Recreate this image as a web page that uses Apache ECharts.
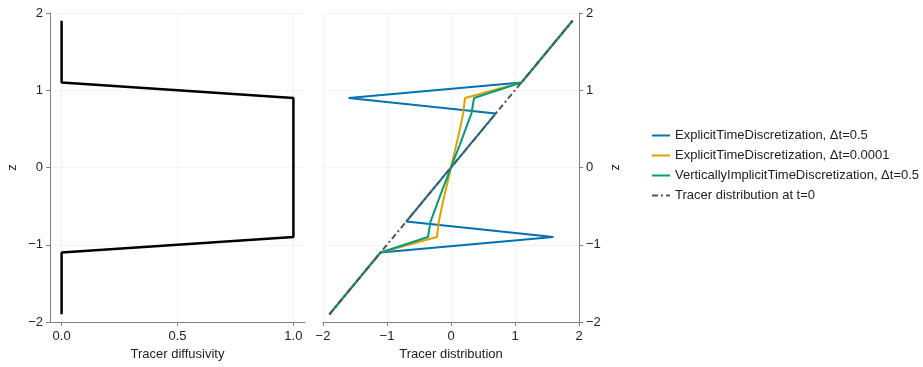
<!DOCTYPE html>
<html>
<head>
<meta charset="utf-8">
<script src="https://cdn.jsdelivr.net/npm/echarts@6/dist/echarts.min.js"></script>
<style>
html,body{margin:0;padding:0;background:#fff;}
#chart{width:923px;height:367px;}
</style>
</head>
<body>
<div id="chart"></div>
<script>
// ---- data ----
var zCenters = [-1.9,-1.7,-1.5,-1.3,-1.1,-0.9,-0.7,-0.5,-0.3,-0.1,0.1,0.3,0.5,0.7,0.9,1.1,1.3,1.5,1.7,1.9];
var diffusivity = [0,0,0,0,0,1,1,1,1,1,1,1,1,1,1,0,0,0,0,0];
var explicitDt05 = [-1.9,-1.7,-1.5,-1.3,-1.1,1.6,-0.7,-0.5,-0.3,-0.1,0.1,0.3,0.5,0.7,-1.6,1.1,1.3,1.5,1.7,1.9];
var explicitDt00001 = [-1.9,-1.7,-1.5,-1.3,-1.1,-0.22,-0.19,-0.14,-0.085,-0.028,0.028,0.085,0.14,0.19,0.22,1.1,1.3,1.5,1.7,1.9];
var implicitDt05 = [-1.9,-1.7,-1.5,-1.3,-1.1,-0.36,-0.32,-0.23,-0.14,-0.045,0.045,0.14,0.23,0.32,0.36,1.1,1.3,1.5,1.7,1.9];
var initialTracer = [-1.9,-1.7,-1.5,-1.3,-1.1,-0.9,-0.7,-0.5,-0.3,-0.1,0.1,0.3,0.5,0.7,0.9,1.1,1.3,1.5,1.7,1.9];
var diffTicks = [0, 0.5, 1.0];
var seriesNames = ['ExplicitTimeDiscretization, \u0394t=0.5','ExplicitTimeDiscretization, \u0394t=0.0001','VerticallyImplicitTimeDiscretization, \u0394t=0.5','Tracer distribution at t=0'];

function pairs(xs){ return xs.map(function(v,i){ return [v, zCenters[i]]; }); }
function minus(v){ return String(v).replace('-', '\u2212'); }

var FONT = 'Liberation Sans, Arial, sans-serif';
var TXT = '#222';
var SPINE = '#808080';
var GRID = 'rgba(0,0,0,0.045)';

var chart = echarts.init(document.getElementById('chart'), null, {renderer:'canvas'});

var yCommon = function(idx, pos){
  return {
    type:'value', gridIndex:idx, position:pos, min:-2, max:2, interval:1,
    name:'z', nameLocation:'middle', nameGap: pos==='left'?31:30,
    nameRotate: pos==='left'?90:-90,
    nameTextStyle:{fontFamily:FONT,fontSize:13,color:TXT},
    axisLine:{show:true,onZero:false,lineStyle:{color:SPINE,width:1}},
    axisTick:{show:true,length:4,lineStyle:{color:SPINE}},
    axisLabel:{fontFamily:FONT,fontSize:13,color:TXT,margin:7,formatter:function(v){return minus(v);}},
    splitLine:{show:true,lineStyle:{color:GRID,width:1}}
  };
};

var option = {
  animation:false,
  backgroundColor:'#fff',
  grid:[
    {left:50, top:13, width:255, height:309},
    {left:323, top:13, width:256, height:309}
  ],
  legend:{
    orient:'vertical', left:646, top:124, itemWidth:18, itemHeight:13, itemGap:7,
    itemStyle:{opacity:0},
    textStyle:{fontFamily:FONT,fontSize:13,color:TXT},
    data:seriesNames
  },
  xAxis:[
    {
      type:'value', gridIndex:0, min:-0.05, max:1.05,
      name:'Tracer diffusivity', nameLocation:'middle', nameGap:24,
      nameTextStyle:{fontFamily:FONT,fontSize:13,color:TXT},
      axisLine:{show:true,onZero:false,lineStyle:{color:SPINE,width:1}},
      axisTick:{show:true,length:4,lineStyle:{color:SPINE},customValues:diffTicks},
      axisLabel:{fontFamily:FONT,fontSize:13,color:TXT,margin:8,customValues:diffTicks,formatter:function(v){return Number(v).toFixed(1);}},
      splitLine:{show:false}
    },
    {
      type:'value', gridIndex:1, min:-2, max:2, interval:1,
      name:'Tracer distribution', nameLocation:'middle', nameGap:24,
      nameTextStyle:{fontFamily:FONT,fontSize:13,color:TXT},
      axisLine:{show:true,onZero:false,lineStyle:{color:SPINE,width:1}},
      axisTick:{show:true,length:4,lineStyle:{color:SPINE}},
      axisLabel:{fontFamily:FONT,fontSize:13,color:TXT,margin:8,formatter:function(v){return minus(v);}},
      splitLine:{show:true,lineStyle:{color:GRID,width:1}}
    }
  ],
  yAxis:[ yCommon(0,'left'), yCommon(1,'right') ],
  series:[
    {
      type:'line', xAxisIndex:0, yAxisIndex:0, data:pairs(diffusivity), symbol:'none',
      lineStyle:{color:'#000',width:2.5}, silent:true,
      markLine:{silent:true,symbol:'none',label:{show:false},lineStyle:{color:GRID,width:1,type:'solid'},
        data:diffTicks.map(function(t){return {xAxis:t};})}
    },
    {
      name:seriesNames[0], type:'line', xAxisIndex:1, yAxisIndex:1, data:pairs(explicitDt05), symbol:'none',
      color:'rgb(0,114,178)', lineStyle:{color:'rgb(0,114,178)',width:2}
    },
    {
      name:seriesNames[1], type:'line', xAxisIndex:1, yAxisIndex:1, data:pairs(explicitDt00001), symbol:'none',
      color:'rgb(230,159,0)', lineStyle:{color:'rgb(230,159,0)',width:2}
    },
    {
      name:seriesNames[2], type:'line', xAxisIndex:1, yAxisIndex:1, data:pairs(implicitDt05), symbol:'none',
      color:'rgb(0,158,115)', lineStyle:{color:'rgb(0,158,115)',width:2}
    },
    {
      name:seriesNames[3], type:'line', xAxisIndex:1, yAxisIndex:1, data:pairs(initialTracer), symbol:'none',
      color:'#555', lineStyle:{color:'#555',width:2,type:[6,3,2,3]}
    }
  ]
};
chart.setOption(option);
</script>
</body>
</html>
